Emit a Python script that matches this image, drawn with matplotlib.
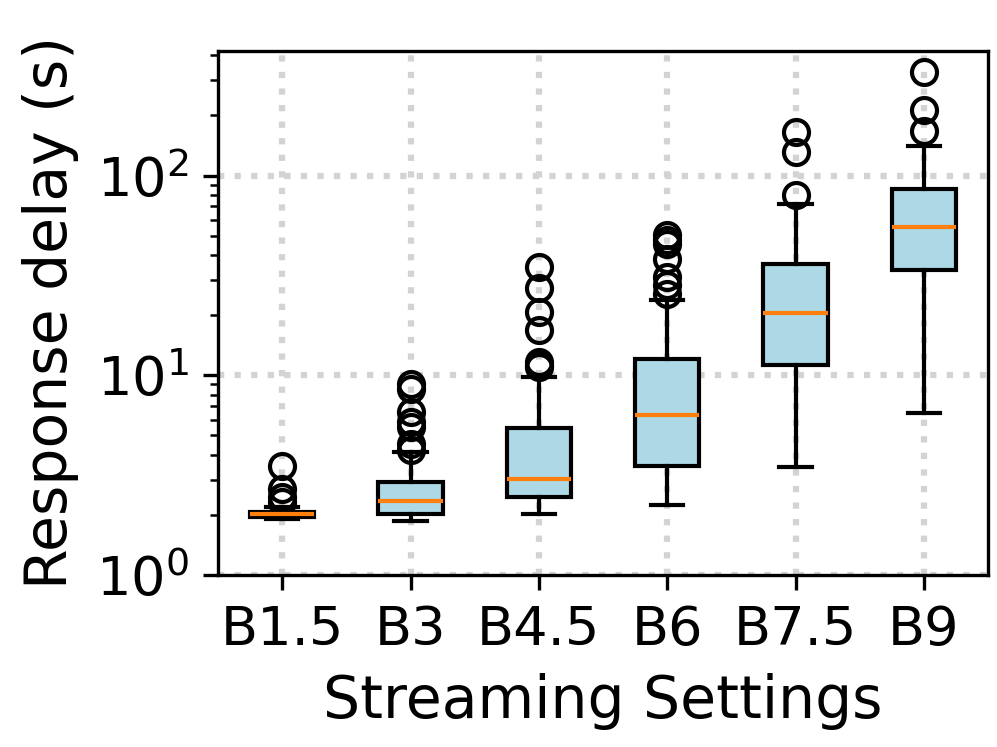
import matplotlib
matplotlib.use("Agg")
import matplotlib.pyplot as plt

# Streaming settings (x categories)
settings = ["B1.5", "B3", "B4.5", "B6", "B7.5", "B9"]

# Box statistics (seconds)
q1 = [1.94, 2.03, 2.47, 3.52, 11.3, 33.8]
medians = [2.01, 2.35, 3.02, 6.29, 20.4, 55.2]
q3 = [2.07, 2.91, 5.46, 12.1, 35.9, 85.5]
whisker_lo = [1.91, 1.86, 2.01, 2.23, 3.48, 6.50]
whisker_hi = [2.18, 4.14, 9.80, 23.9, 72.4, 140.0]
outliers = [
    [2.33, 2.47, 2.68, 3.52],
    [4.24, 4.50, 5.50, 5.83, 6.58, 8.53, 9.06],
    [11.0, 11.3, 11.7, 16.9, 20.7, 27.4, 34.8],
    [25.6, 28.2, 31.2, 38.1, 45.6, 47.4, 50.3],
    [79.6, 131.0, 165.0],
    [167.0, 212.0, 330.0],
]

stats = []
for i, name in enumerate(settings):
    stats.append({
        "label": name,
        "q1": q1[i],
        "med": medians[i],
        "q3": q3[i],
        "whislo": whisker_lo[i],
        "whishi": whisker_hi[i],
        "fliers": outliers[i],
    })

fig = plt.figure(figsize=(997 / 300, 747 / 300), dpi=300)
ax = fig.add_axes([0.2187, 0.2303, 0.991 - 0.2187, 0.9317 - 0.2303])

ax.bxp(
    stats,
    patch_artist=True,
    widths=0.5,
    boxprops=dict(facecolor="lightblue", edgecolor="black"),
    medianprops=dict(color="C1"),
)

ax.set_yscale("log")
ax.set_ylim(1, 420)
ax.set_xlim(0.5, len(settings) + 0.5)

ax.grid(True, which="major", linestyle=":", linewidth=1.5, color="lightgray")
ax.set_axisbelow(True)

ax.tick_params(axis="both", labelsize=13)
ax.set_xlabel("Streaming Settings", fontsize=14)
ax.set_ylabel("Response delay (s)", fontsize=14)

fig.savefig("out.png", dpi=300)
